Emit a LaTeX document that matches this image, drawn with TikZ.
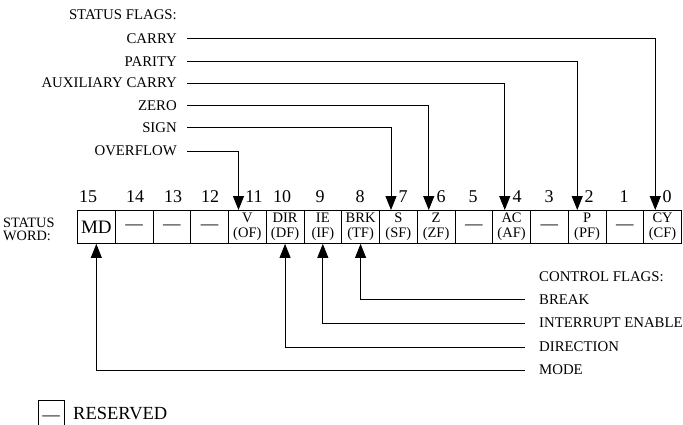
\documentclass[tikz,border=0pt]{standalone}
\usepackage{fontspec}
\setmainfont{Liberation Serif}
\usetikzlibrary{arrows.meta}
\begin{document}
\begin{tikzpicture}[x=1pt,y=-1pt,
  lbl/.style={font=\fontsize{14.8}{15}\selectfont, inner sep=0pt},
  bitnum/.style={font=\fontsize{18}{18}\selectfont, inner sep=0pt},
  cellbox/.style={draw, line width=0.9pt, minimum width=37.75pt, minimum height=33pt,
    inner sep=0pt, anchor=north west, align=center, font=\fontsize{14.5}{15.5}\selectfont},
  big/.style={font=\fontsize{19}{19}\selectfont},
  dashcell/.style={font=\fontsize{17.5}{17.5}\selectfont},
  conn/.style={line width=0.9pt},
  tip/.style={-{Triangle[width=11pt,length=14pt]}}
]
\useasboundingbox (0,0) rectangle (683,425);

% register cells
\node[cellbox,big] (c15) at (77,210) {MD};
\node[cellbox,dashcell] (c14) at (114.75,210) {—};
\node[cellbox,dashcell] (c13) at (152.5,210) {—};
\node[cellbox,dashcell] (c12) at (190.25,210) {—};
\node[cellbox] (c11) at (228,210) {V\\(OF)};
\node[cellbox] (c10) at (265.75,210) {DIR\\(DF)};
\node[cellbox] (c9) at (303.5,210) {IE\\(IF)};
\node[cellbox] (c8) at (341.25,210) {BRK\\(TF)};
\node[cellbox] (c7) at (379,210) {S\\(SF)};
\node[cellbox] (c6) at (416.75,210) {Z\\(ZF)};
\node[cellbox,dashcell] (c5) at (454.5,210) {—};
\node[cellbox] (c4) at (492.25,210) {AC\\(AF)};
\node[cellbox,dashcell] (c3) at (530,210) {—};
\node[cellbox] (c2) at (567.75,210) {P\\(PF)};
\node[cellbox,dashcell] (c1) at (605.5,210) {—};
\node[cellbox] (c0) at (643.25,210) {CY\\(CF)};

% bit numbers
\node[bitnum] (n15) at (88,197) {15};
\node[bitnum] (n14) at (135,197) {14};
\node[bitnum] (n13) at (173,197) {13};
\node[bitnum] (n12) at (210,197) {12};
\node[bitnum] (n11) at (254,197) {11};
\node[bitnum] (n10) at (282,197) {10};
\node[bitnum] (n9) at (320,197) {9};
\node[bitnum] (n8) at (360,197) {8};
\node[bitnum] (n7) at (403,197) {7};
\node[bitnum] (n6) at (441,197) {6};
\node[bitnum] (n5) at (473,197) {5};
\node[bitnum] (n4) at (517,197) {4};
\node[bitnum] (n3) at (549,197) {3};
\node[bitnum] (n2) at (589,197) {2};
\node[bitnum] (n1) at (624,197) {1};
\node[bitnum] (n0) at (667,197) {0};

% status word label
\node[lbl, anchor=west, align=left, font=\fontsize{14.3}{13.2}\selectfont] (sw) at (3,229) {STATUS\\WORD:};

% status flags
\node[lbl, anchor=east] (sf) at (177,15) {STATUS FLAGS:};
\node[lbl, anchor=east] (lcy) at (177,38.5) {CARRY};
\node[lbl, anchor=east] (lp) at (177,61.5) {PARITY};
\node[lbl, anchor=east] (lac) at (177,83) {AUXILIARY CARRY};
\node[lbl, anchor=east] (lz) at (177,105.5) {ZERO};
\node[lbl, anchor=east] (ls) at (177,127.5) {SIGN};
\node[lbl, anchor=east] (lo) at (177,151) {OVERFLOW};

\draw[conn,tip] ([xshift=10pt]lcy.east) -| ([xshift=12pt]c0.north west);
\draw[conn,tip] ([xshift=10pt]lp.east) -| ([xshift=9.5pt]c2.north west);
\draw[conn,tip] ([xshift=10pt]lac.east) -| ([xshift=12.5pt]c4.north west);
\draw[conn,tip] ([xshift=10pt]lz.east) -| ([xshift=12pt]c6.north west);
\draw[conn,tip] ([xshift=10pt]ls.east) -| ([xshift=12pt]c7.north west);
\draw[conn,tip] ([xshift=10pt]lo.east) -| ([xshift=10.5pt]c11.north west);

% control flags
\node[lbl, anchor=west] (cf) at (539,277) {CONTROL FLAGS:};
\node[lbl, anchor=west] (lbrk) at (539,299.5) {BREAK};
\node[lbl, anchor=west] (lie) at (539,323) {INTERRUPT ENABLE};
\node[lbl, anchor=west] (ldir) at (539,347) {DIRECTION};
\node[lbl, anchor=west] (lmd) at (539,370) {MODE};

\draw[conn,tip] ([xshift=-14pt]lbrk.west) -| (c8.south);
\draw[conn,tip] ([xshift=-14pt]lie.west) -| (c9.south);
\draw[conn,tip] ([xshift=-14pt]ldir.west) -| (c10.south);
\draw[conn,tip] ([xshift=-14pt]lmd.west) -| (c15.south);

% reserved legend
\draw[conn] (38,426) -- (38,400) -- (64,400) -- (64,426);
\node[dashcell, inner sep=0pt] (rdash) at (51,418.5) {—};
\node[inner sep=0pt, anchor=west, font=\fontsize{18.5}{18.5}\selectfont] (res) at (73,414) {RESERVED};
\end{tikzpicture}
\end{document}
